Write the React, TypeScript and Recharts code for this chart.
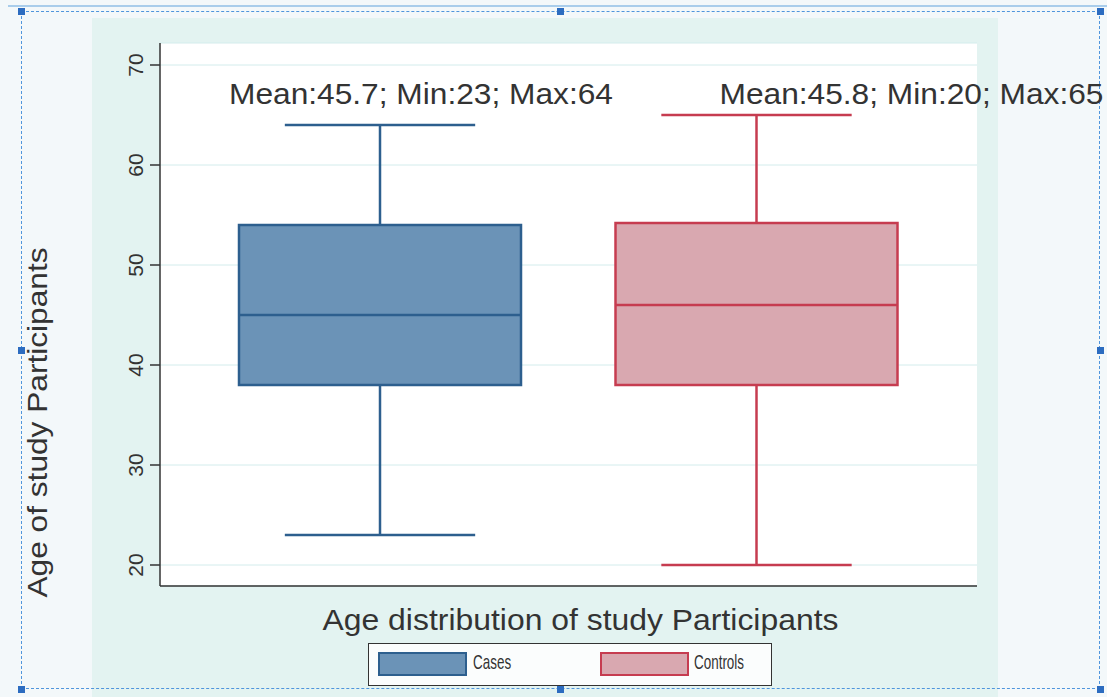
import { ComposedChart, Bar, XAxis, YAxis, CartesianGrid, Label } from 'recharts'

const groups = ['Cases', 'Controls']
const mins = [23, 20]
const q1s = [38, 38]
const medians = [45, 46]
const q3s = [54, 54.2]
const maxs = [64, 65]
const means = [45.7, 45.8]
const yTicks = [20, 30, 40, 50, 60, 70]

const FILLS = ['#6b93b7', '#d9a8b0']
const STROKES = ['#2d5f8e', '#c63c50']
const TEXT = '#333333'
const FONT = '"Liberation Sans", Arial, sans-serif'
// where the summary text sits (data value of its baseline), and its horizontal offset from the box centre
const NOTE_Y = 66.1
const NOTE_DX = [-151, -37]
const NOTE_LEN = 384
const CAP_RATIO = 0.675

const data = groups.map((g, i) => ({
  group: g,
  range: [mins[i], maxs[i]],
  q1: q1s[i],
  median: medians[i],
  q3: q3s[i],
  mean: means[i],
}))

function BoxShape(props: any) {
  const { x, y, width, height, payload } = props
  const i = groups.indexOf(payload.group)
  const [lo, hi] = payload.range
  const top = Math.min(y, y + height)
  const bot = Math.max(y, y + height)
  const toY = (v: number) => top + ((hi - v) / (hi - lo)) * (bot - top)
  const cx = x + width / 2
  const capHalf = (width * CAP_RATIO) / 2
  const stroke = STROKES[i]
  const note = `Mean:${payload.mean}; Min:${lo}; Max:${hi}`
  return (
    <g>
      <line x1={cx} x2={cx} y1={toY(hi)} y2={toY(payload.q3)} stroke={stroke} strokeWidth={2.5} />
      <line x1={cx} x2={cx} y1={toY(payload.q1)} y2={toY(lo)} stroke={stroke} strokeWidth={2.5} />
      <line x1={cx - capHalf} x2={cx + capHalf} y1={toY(hi)} y2={toY(hi)} stroke={stroke} strokeWidth={2.5} />
      <line x1={cx - capHalf} x2={cx + capHalf} y1={toY(lo)} y2={toY(lo)} stroke={stroke} strokeWidth={2.5} />
      <rect
        x={x}
        y={toY(payload.q3)}
        width={width}
        height={toY(payload.q1) - toY(payload.q3)}
        fill={FILLS[i]}
        stroke={stroke}
        strokeWidth={2.5}
      />
      <line x1={x} x2={x + width} y1={toY(payload.median)} y2={toY(payload.median)} stroke={stroke} strokeWidth={2.5} />
      <text
        x={cx + NOTE_DX[i]}
        y={toY(NOTE_Y)}
        fill={TEXT}
        fontFamily={FONT}
        fontSize={29}
        textLength={NOTE_LEN}
        lengthAdjust="spacingAndGlyphs"
      >
        {note}
      </text>
    </g>
  )
}

function YTick({ x, y, payload }: any) {
  return (
    <text
      x={x}
      y={y}
      transform={`rotate(-90 ${x} ${y})`}
      textAnchor="middle"
      fill={TEXT}
      fontFamily={FONT}
      fontSize={21}
    >
      {payload.value}
    </text>
  )
}

function YTitle({ viewBox }: any) {
  const tx = viewBox.x + 47
  const ty = viewBox.y + viewBox.height / 2 + 108
  return (
    <text
      x={tx}
      y={ty}
      transform={`rotate(-90 ${tx} ${ty})`}
      textAnchor="middle"
      fill={TEXT}
      fontFamily={FONT}
      fontSize={28}
      textLength={350}
      lengthAdjust="spacingAndGlyphs"
    >
      Age of study Participants
    </text>
  )
}

function XTitle({ viewBox }: any) {
  const tx = viewBox.x + viewBox.width / 2 + 12
  const ty = viewBox.y + 44
  return (
    <text
      x={tx}
      y={ty}
      textAnchor="middle"
      fill={TEXT}
      fontFamily={FONT}
      fontSize={29}
      textLength={516}
      lengthAdjust="spacingAndGlyphs"
    >
      Age distribution of study Participants
    </text>
  )
}

const HANDLES = [
  [21, 11], [560, 11], [1100, 11],
  [21, 350], [1100, 350],
  [21, 689], [560, 689], [1100, 689],
]

export default function App() {
  return (
    <div style={{ position: 'absolute', left: 0, top: 0, width: 1107, height: 697, background: '#f3f8fa', overflow: 'hidden' }}>
      <div style={{ position: 'absolute', left: 8, right: 0, top: 5, height: 2, background: '#a9cdeb' }} />
      <div style={{ position: 'absolute', left: 92, top: 18, width: 906, height: 679, background: '#e3f3f1' }} />
      <div
        style={{
          position: 'absolute', left: 21, top: 11, width: 1079, height: 678,
          border: '1px dashed #4f95dc', boxSizing: 'border-box',
        }}
      />
      {HANDLES.map(([hx, hy], k) => (
        <div key={k} style={{ position: 'absolute', left: hx - 3, top: hy - 3, width: 7, height: 7, background: '#2c6cc0' }} />
      ))}

      <div style={{ position: 'absolute', left: 0, top: 0 }}>
        <ComposedChart
          width={1107}
          height={697}
          data={data}
          margin={{ top: 43, right: 130, bottom: 0, left: 0 }}
        >
          <CartesianGrid vertical={false} stroke="#d3ecec" fill="#ffffff" />
          <XAxis
            dataKey="group"
            type="category"
            tick={false}
            tickLine={false}
            axisLine={{ stroke: '#333', strokeWidth: 1.5 }}
            padding={{ left: 32, right: 32 }}
            height={111}
          >
            <Label content={<XTitle />} />
          </XAxis>
          <YAxis
            type="number"
            domain={[17.9, 72.2]}
            ticks={yTicks}
            allowDataOverflow
            width={160}
            tickSize={10}
            tickMargin={7}
            tick={<YTick />}
            tickLine={{ stroke: '#333', strokeWidth: 1.5 }}
            axisLine={{ stroke: '#333', strokeWidth: 1.5 }}
          >
            <Label content={<YTitle />} />
          </YAxis>
          <Bar dataKey="range" barSize={282} shape={<BoxShape />} isAnimationActive={false} />
        </ComposedChart>
      </div>

      {/* legend */}
      <div
        style={{
          position: 'absolute', left: 368, top: 643, width: 404, height: 43,
          border: '1px solid #333', boxSizing: 'border-box', background: '#fbfdfd',
        }}
      >
        {groups.map((g, i) => (
          <div key={g}>
            <div
              style={{
                position: 'absolute', left: i === 0 ? 9 : 231, top: 8, width: 89, height: 24,
                background: FILLS[i], border: `2px solid ${STROKES[i]}`, boxSizing: 'border-box',
              }}
            />
            <span
              style={{
                position: 'absolute', left: i === 0 ? 104 : 325, top: 6,
                fontFamily: FONT, fontSize: 21, color: TEXT,
                transform: 'scaleX(0.64)', transformOrigin: 'left center', whiteSpace: 'nowrap',
              }}
            >
              {g}
            </span>
          </div>
        ))}
      </div>
    </div>
  )
}
